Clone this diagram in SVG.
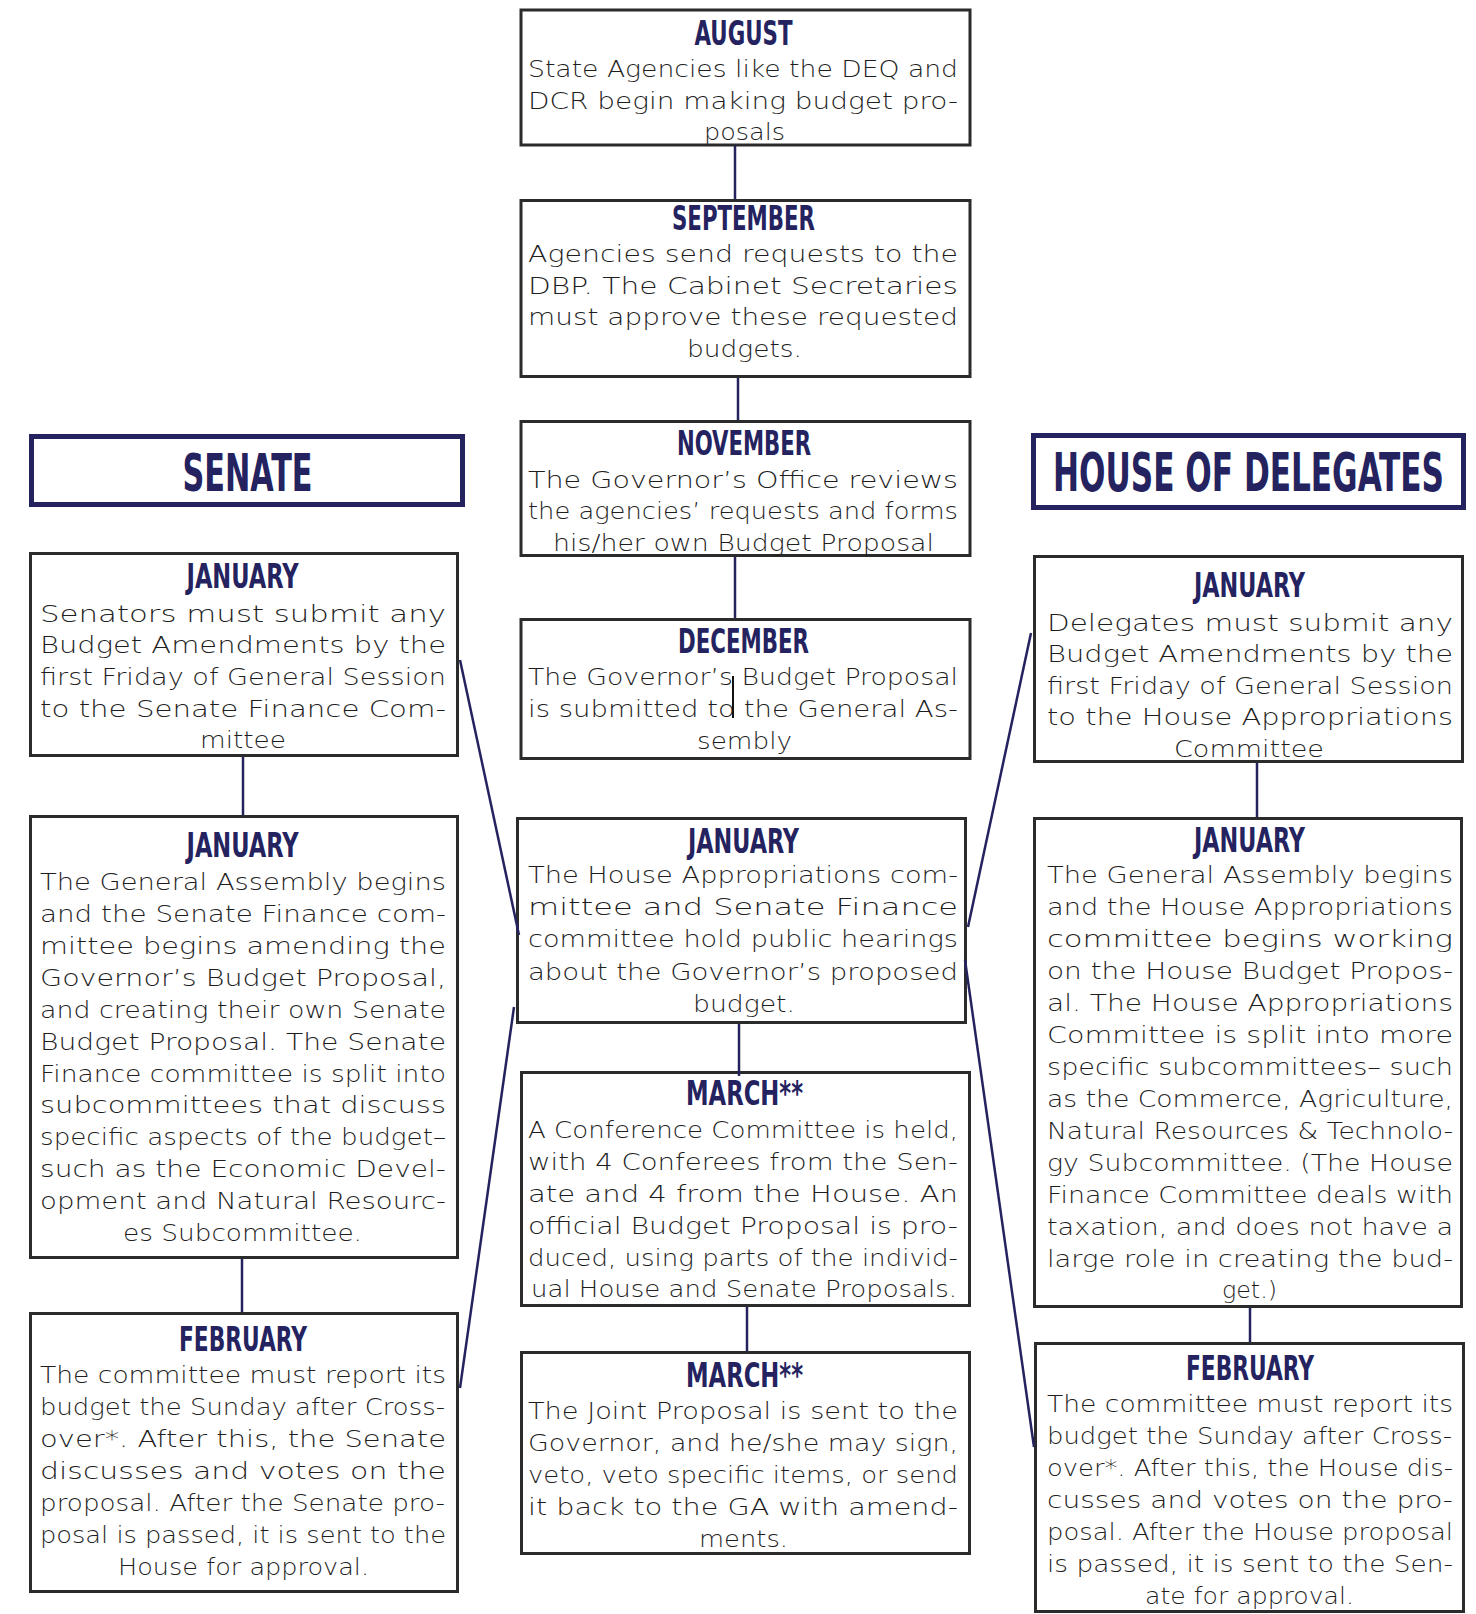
<svg xmlns="http://www.w3.org/2000/svg" width="1476" height="1614" viewBox="0 0 1476 1614">
<style>
.bx{fill:#fff;stroke:#2b2b2b;stroke-width:3}
.hd{fill:#fff;stroke:#24235f;stroke-width:5}
.t{font-family:"Liberation Sans Narrow","DejaVu Sans Condensed","Liberation Sans",sans-serif;font-weight:700;fill:#24235f;font-size:33.5px;text-anchor:middle}
.h{font-family:"Liberation Sans Narrow","DejaVu Sans Condensed","Liberation Sans",sans-serif;font-weight:700;fill:#24235f;font-size:52px;text-anchor:middle}
.b{font-family:"DejaVu Sans","Open Sans",sans-serif;font-weight:300;font-size:23px;fill:#1e1e1e}
.c{text-anchor:middle}
.ln{stroke:#24235f;stroke-width:2.5;fill:none}
</style>
<rect width="1476" height="1614" fill="#fff"/>

<g id="senate-header">
<rect class="hd" x="31.5" y="436.5" width="431" height="68"/>
<text class="h" x="247.5" y="491" textLength="130" lengthAdjust="spacingAndGlyphs">SENATE</text>
</g>
<g id="house-header">
<rect class="hd" x="1033.5" y="435.5" width="430" height="72"/>
<text class="h" x="1248.5" y="491" textLength="391" lengthAdjust="spacingAndGlyphs" style="font-size:53px">HOUSE OF DELEGATES</text>
</g>

<g id="august">
<rect class="bx" x="521" y="10" width="449" height="135"/>
<text class="t" x="743.5" y="45" textLength="98" lengthAdjust="spacingAndGlyphs">AUGUST</text>
<text class="b" x="528" y="77" textLength="430" lengthAdjust="spacingAndGlyphs">State Agencies like the DEQ and</text>
<text class="b" x="528" y="109" textLength="430" lengthAdjust="spacingAndGlyphs">DCR begin making budget pro-</text>
<text class="b c" x="744.5" y="140" textLength="81" lengthAdjust="spacingAndGlyphs">posals</text>
</g>

<g id="september">
<rect class="bx" x="521" y="200.5" width="449" height="176"/>
<text class="t" x="743.5" y="230" textLength="143" lengthAdjust="spacingAndGlyphs">SEPTEMBER</text>
<text class="b" x="528" y="262" textLength="430" lengthAdjust="spacingAndGlyphs">Agencies send requests to the</text>
<text class="b" x="528" y="294" textLength="430" lengthAdjust="spacingAndGlyphs">DBP. The Cabinet Secretaries</text>
<text class="b" x="528" y="325" textLength="430" lengthAdjust="spacingAndGlyphs">must approve these requested</text>
<text class="b c" x="744.5" y="357" textLength="115" lengthAdjust="spacingAndGlyphs">budgets.</text>
</g>

<g id="november">
<rect class="bx" x="521" y="421.5" width="449" height="134"/>
<text class="t" x="744" y="455" textLength="134" lengthAdjust="spacingAndGlyphs">NOVEMBER</text>
<text class="b" x="528" y="488" textLength="430" lengthAdjust="spacingAndGlyphs">The Governor’s Office reviews</text>
<text class="b" x="528" y="519" textLength="430" lengthAdjust="spacingAndGlyphs">the agencies’ requests and forms</text>
<text class="b c" x="743.5" y="551" textLength="381" lengthAdjust="spacingAndGlyphs">his/her own Budget Proposal</text>
</g>

<g id="december">
<rect class="bx" x="521" y="619.5" width="449" height="139"/>
<text class="t" x="743.5" y="653" textLength="131" lengthAdjust="spacingAndGlyphs">DECEMBER</text>
<text class="b" x="528" y="685" textLength="430" lengthAdjust="spacingAndGlyphs">The Governor’s Budget Proposal</text>
<text class="b" x="528" y="717" textLength="430" lengthAdjust="spacingAndGlyphs">is submitted to the General As-</text>
<text class="b c" x="744.5" y="749" textLength="95" lengthAdjust="spacingAndGlyphs">sembly</text>
<line x1="733" y1="676" x2="733" y2="718" stroke="#111" stroke-width="2"/>
</g>

<g id="senate-jan1">
<rect class="bx" x="30.5" y="553.5" width="427" height="202"/>
<text class="t" x="242.5" y="588" textLength="112" lengthAdjust="spacingAndGlyphs">JANUARY</text>
<text class="b" x="40" y="622" textLength="406" lengthAdjust="spacingAndGlyphs">Senators must submit any</text>
<text class="b" x="40" y="653" textLength="406" lengthAdjust="spacingAndGlyphs">Budget Amendments by the</text>
<text class="b" x="40" y="685" textLength="406" lengthAdjust="spacingAndGlyphs">first Friday of General Session</text>
<text class="b" x="40" y="717" textLength="406" lengthAdjust="spacingAndGlyphs">to the Senate Finance Com-</text>
<text class="b c" x="243" y="748" textLength="86" lengthAdjust="spacingAndGlyphs">mittee</text>
</g>

<g id="senate-jan2">
<rect class="bx" x="30.5" y="816.5" width="427" height="441"/>
<text class="t" x="242.5" y="857" textLength="112" lengthAdjust="spacingAndGlyphs">JANUARY</text>
<text class="b" x="40" y="890" textLength="406" lengthAdjust="spacingAndGlyphs">The General Assembly begins</text>
<text class="b" x="40" y="922" textLength="406" lengthAdjust="spacingAndGlyphs">and the Senate Finance com-</text>
<text class="b" x="40" y="954" textLength="406" lengthAdjust="spacingAndGlyphs">mittee begins amending the</text>
<text class="b" x="40" y="986" textLength="406" lengthAdjust="spacingAndGlyphs">Governor’s Budget Proposal,</text>
<text class="b" x="40" y="1018" textLength="406" lengthAdjust="spacingAndGlyphs">and creating their own Senate</text>
<text class="b" x="40" y="1050" textLength="406" lengthAdjust="spacingAndGlyphs">Budget Proposal. The Senate</text>
<text class="b" x="40" y="1082" textLength="406" lengthAdjust="spacingAndGlyphs">Finance committee is split into</text>
<text class="b" x="40" y="1113" textLength="406" lengthAdjust="spacingAndGlyphs">subcommittees that discuss</text>
<text class="b" x="40" y="1145" textLength="406" lengthAdjust="spacingAndGlyphs">specific aspects of the budget–</text>
<text class="b" x="40" y="1177" textLength="406" lengthAdjust="spacingAndGlyphs">such as the Economic Devel-</text>
<text class="b" x="40" y="1209" textLength="406" lengthAdjust="spacingAndGlyphs">opment and Natural Resourc-</text>
<text class="b c" x="242.5" y="1241" textLength="239" lengthAdjust="spacingAndGlyphs">es Subcommittee.</text>
</g>

<g id="senate-feb">
<rect class="bx" x="30.5" y="1313.5" width="427" height="278"/>
<text class="t" x="243" y="1351" textLength="128" lengthAdjust="spacingAndGlyphs">FEBRUARY</text>
<text class="b" x="40" y="1383" textLength="406" lengthAdjust="spacingAndGlyphs">The committee must report its</text>
<text class="b" x="40" y="1415" textLength="405" lengthAdjust="spacingAndGlyphs">budget the Sunday after Cross-</text>
<text class="b" x="40" y="1447" textLength="406" lengthAdjust="spacingAndGlyphs">over*. After this, the Senate</text>
<text class="b" x="40" y="1479" textLength="406" lengthAdjust="spacingAndGlyphs">discusses and votes on the</text>
<text class="b" x="40" y="1511" textLength="405" lengthAdjust="spacingAndGlyphs">proposal. After the Senate pro-</text>
<text class="b" x="40" y="1543" textLength="406" lengthAdjust="spacingAndGlyphs">posal is passed, it is sent to the</text>
<text class="b c" x="243.5" y="1575" textLength="251" lengthAdjust="spacingAndGlyphs">House for approval.</text>
</g>

<g id="house-jan1">
<rect class="bx" x="1034.5" y="556.5" width="428" height="205"/>
<text class="t" x="1249.5" y="597" textLength="111" lengthAdjust="spacingAndGlyphs">JANUARY</text>
<text class="b" x="1047" y="631" textLength="406" lengthAdjust="spacingAndGlyphs">Delegates must submit any</text>
<text class="b" x="1047" y="662" textLength="406" lengthAdjust="spacingAndGlyphs">Budget Amendments by the</text>
<text class="b" x="1047" y="694" textLength="406" lengthAdjust="spacingAndGlyphs">first Friday of General Session</text>
<text class="b" x="1047" y="725" textLength="406" lengthAdjust="spacingAndGlyphs">to the House Appropriations</text>
<text class="b c" x="1249" y="757" textLength="150" lengthAdjust="spacingAndGlyphs">Committee</text>
</g>

<g id="house-jan2">
<rect class="bx" x="1034.5" y="818.5" width="427" height="488"/>
<text class="t" x="1249.5" y="852" textLength="111" lengthAdjust="spacingAndGlyphs">JANUARY</text>
<text class="b" x="1047" y="883" textLength="406" lengthAdjust="spacingAndGlyphs">The General Assembly begins</text>
<text class="b" x="1047" y="915" textLength="406" lengthAdjust="spacingAndGlyphs">and the House Appropriations</text>
<text class="b" x="1047" y="947" textLength="406" lengthAdjust="spacingAndGlyphs">committee begins working</text>
<text class="b" x="1047" y="979" textLength="406" lengthAdjust="spacingAndGlyphs">on the House Budget Propos-</text>
<text class="b" x="1047" y="1011" textLength="406" lengthAdjust="spacingAndGlyphs">al. The House Appropriations</text>
<text class="b" x="1047" y="1043" textLength="406" lengthAdjust="spacingAndGlyphs">Committee is split into more</text>
<text class="b" x="1047" y="1075" textLength="406" lengthAdjust="spacingAndGlyphs">specific subcommittees– such</text>
<text class="b" x="1047" y="1107" textLength="406" lengthAdjust="spacingAndGlyphs">as the Commerce, Agriculture,</text>
<text class="b" x="1047" y="1139" textLength="406" lengthAdjust="spacingAndGlyphs">Natural Resources &amp; Technolo-</text>
<text class="b" x="1047" y="1171" textLength="406" lengthAdjust="spacingAndGlyphs">gy Subcommittee. (The House</text>
<text class="b" x="1047" y="1203" textLength="406" lengthAdjust="spacingAndGlyphs">Finance Committee deals with</text>
<text class="b" x="1047" y="1235" textLength="406" lengthAdjust="spacingAndGlyphs">taxation, and does not have a</text>
<text class="b" x="1047" y="1267" textLength="406" lengthAdjust="spacingAndGlyphs">large role in creating the bud-</text>
<text class="b c" x="1249.5" y="1298" textLength="55" lengthAdjust="spacingAndGlyphs">get.)</text>
</g>

<g id="house-feb">
<rect class="bx" x="1035.5" y="1343.5" width="428" height="268"/>
<text class="t" x="1250" y="1380" textLength="128" lengthAdjust="spacingAndGlyphs">FEBRUARY</text>
<text class="b" x="1047" y="1412" textLength="406" lengthAdjust="spacingAndGlyphs">The committee must report its</text>
<text class="b" x="1047" y="1444" textLength="405" lengthAdjust="spacingAndGlyphs">budget the Sunday after Cross-</text>
<text class="b" x="1047" y="1476" textLength="406" lengthAdjust="spacingAndGlyphs">over*. After this, the House dis-</text>
<text class="b" x="1047" y="1508" textLength="406" lengthAdjust="spacingAndGlyphs">cusses and votes on the pro-</text>
<text class="b" x="1047" y="1540" textLength="406" lengthAdjust="spacingAndGlyphs">posal. After the House proposal</text>
<text class="b" x="1047" y="1572" textLength="406" lengthAdjust="spacingAndGlyphs">is passed, it is sent to the Sen-</text>
<text class="b c" x="1249.5" y="1604" textLength="209" lengthAdjust="spacingAndGlyphs">ate for approval.</text>
</g>

<g id="center-jan">
<rect class="bx" x="517.5" y="818.5" width="448" height="204"/>
<text class="t" x="743.5" y="853" textLength="111" lengthAdjust="spacingAndGlyphs">JANUARY</text>
<text class="b" x="528" y="883" textLength="430" lengthAdjust="spacingAndGlyphs">The House Appropriations com-</text>
<text class="b" x="528" y="915" textLength="430" lengthAdjust="spacingAndGlyphs">mittee and Senate Finance</text>
<text class="b" x="528" y="947" textLength="430" lengthAdjust="spacingAndGlyphs">committee hold public hearings</text>
<text class="b" x="528" y="980" textLength="430" lengthAdjust="spacingAndGlyphs">about the Governor’s proposed</text>
<text class="b c" x="744" y="1012" textLength="102" lengthAdjust="spacingAndGlyphs">budget.</text>
</g>

<g id="march1">
<rect class="bx" x="521.5" y="1072.5" width="448" height="233"/>
<text class="t" x="744.5" y="1105" textLength="117" lengthAdjust="spacingAndGlyphs">MARCH**</text>
<text class="b" x="528" y="1138" textLength="430" lengthAdjust="spacingAndGlyphs">A Conference Committee is held,</text>
<text class="b" x="528" y="1170" textLength="430" lengthAdjust="spacingAndGlyphs">with 4 Conferees from the Sen-</text>
<text class="b" x="528" y="1202" textLength="430" lengthAdjust="spacingAndGlyphs">ate and 4 from the House. An</text>
<text class="b" x="528" y="1234" textLength="430" lengthAdjust="spacingAndGlyphs">official Budget Proposal is pro-</text>
<text class="b" x="528" y="1266" textLength="430" lengthAdjust="spacingAndGlyphs">duced, using parts of the individ-</text>
<text class="b c" x="744" y="1297" textLength="426" lengthAdjust="spacingAndGlyphs">ual House and Senate Proposals.</text>
</g>

<g id="march2">
<rect class="bx" x="521.5" y="1352.5" width="448" height="201"/>
<text class="t" x="744.5" y="1387" textLength="117" lengthAdjust="spacingAndGlyphs">MARCH**</text>
<text class="b" x="528" y="1419" textLength="430" lengthAdjust="spacingAndGlyphs">The Joint Proposal is sent to the</text>
<text class="b" x="528" y="1451" textLength="430" lengthAdjust="spacingAndGlyphs">Governor, and he/she may sign,</text>
<text class="b" x="528" y="1483" textLength="430" lengthAdjust="spacingAndGlyphs">veto, veto specific items, or send</text>
<text class="b" x="528" y="1515" textLength="430" lengthAdjust="spacingAndGlyphs">it back to the GA with amend-</text>
<text class="b c" x="743.5" y="1547" textLength="89" lengthAdjust="spacingAndGlyphs">ments.</text>
</g>

<g id="connectors">
<line class="ln" x1="735" y1="146" x2="735" y2="199"/>
<line class="ln" x1="738" y1="378" x2="738" y2="420"/>
<line class="ln" x1="735" y1="557" x2="735" y2="618"/>
<line class="ln" x1="243" y1="757" x2="243" y2="815"/>
<line class="ln" x1="242" y1="1259" x2="242" y2="1312"/>
<line class="ln" x1="1257" y1="763" x2="1257" y2="817"/>
<line class="ln" x1="1250" y1="1308" x2="1250" y2="1342"/>
<line class="ln" x1="739" y1="1024" x2="739" y2="1076"/>
<line class="ln" x1="747" y1="1307" x2="747" y2="1351"/>
<line class="ln" x1="460" y1="660" x2="519" y2="935"/>
<line class="ln" x1="514" y1="1007" x2="460" y2="1388"/>
<line class="ln" x1="1031" y1="633" x2="968" y2="927"/>
<line class="ln" x1="965" y1="960" x2="1034" y2="1447"/>
</g>
</svg>
